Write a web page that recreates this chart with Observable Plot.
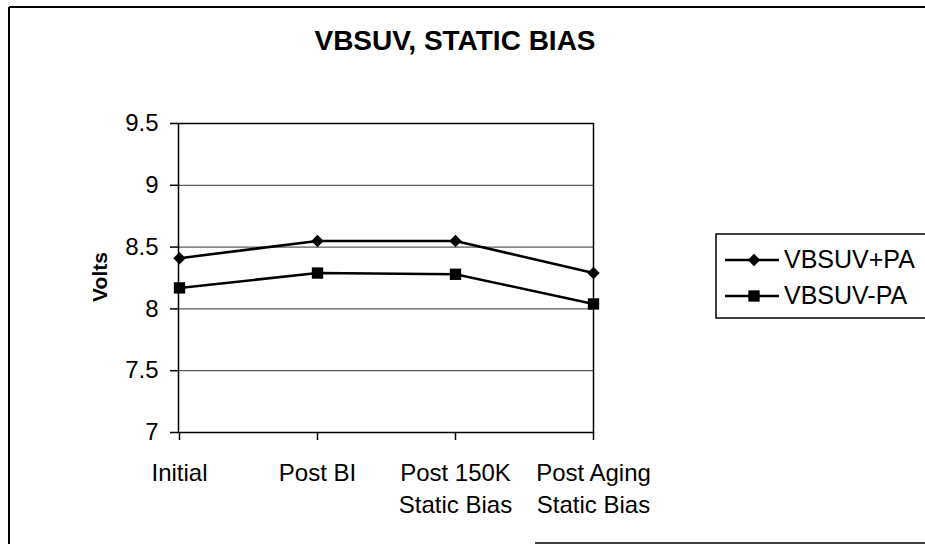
<!DOCTYPE html>
<html>
<head>
<meta charset="utf-8">
<script src="https://cdn.jsdelivr.net/npm/d3@7"></script>
<script src="https://cdn.jsdelivr.net/npm/@observablehq/plot@0.6"></script>
<style>
  html, body { margin: 0; padding: 0; background: white; }
  #chart { width: 925px; height: 544px; overflow: hidden; }
</style>
</head>
<body>
<div id="chart"></div>
<script>
const title = "VBSUV, STATIC BIAS";
const yLabel = "Volts";
const categories = ["Initial", "Post BI", "Post 150K\nStatic Bias", "Post Aging\nStatic Bias"];
const seriesNames = ["VBSUV+PA", "VBSUV-PA"];
const plusPA = [8.41, 8.55, 8.55, 8.29];
const minusPA = [8.17, 8.29, 8.28, 8.04];
const yTicks = [7, 7.5, 8, 8.5, 9, 9.5];

const plusRows = categories.map((c, i) => ({cat: c, v: plusPA[i], series: seriesNames[0]}));
const minusRows = categories.map((c, i) => ({cat: c, v: minusPA[i], series: seriesNames[1]}));
const rows = plusRows.concat(minusRows);

const W = 925, H = 544;
const font = "'Liberation Sans', Arial, Helvetica, sans-serif";

const chart = Plot.plot({
  width: W,
  height: H,
  marginLeft: 178,
  marginRight: 332,
  marginTop: 123,
  marginBottom: 112,
  style: {fontFamily: font, background: "white", color: "black", overflow: "visible"},
  x: {type: "point", domain: categories, padding: 0},
  y: {domain: [7, 9.5]},
  marks: [
    Plot.gridY(yTicks, {stroke: "#333", strokeOpacity: 1, strokeWidth: 1}),
    Plot.frame({stroke: "black", strokeWidth: 1.5}),
    Plot.axisY(yTicks, {tickSize: 8, tickPadding: 12, fontSize: 24, tickFormat: d => String(d), label: null, strokeWidth: 1.5}),
    Plot.axisX({tickSize: 8, tickPadding: 18, fontSize: 24, lineHeight: 1.33, label: null, strokeWidth: 1.5}),
    Plot.line(rows, {x: "cat", y: "v", z: "series", stroke: "black", strokeWidth: 2.5}),
    Plot.dot(plusRows, {x: "cat", y: "v", symbol: "diamond2", fill: "black", stroke: "none", r: 5.6}),
    Plot.dot(minusRows, {x: "cat", y: "v", symbol: "square", fill: "black", stroke: "none", r: 6.4})
  ]
});

document.getElementById("chart").appendChild(chart);

const svg = d3.select(chart);

// outer chart border (as in the scanned original)
svg.append("line").attr("x1", 9).attr("x2", 9).attr("y1", 7).attr("y2", H)
  .attr("stroke", "black").attr("stroke-width", 2);
svg.append("line").attr("x1", 9).attr("x2", W).attr("y1", 7).attr("y2", 7)
  .attr("stroke", "black").attr("stroke-width", 2);
svg.append("line").attr("x1", 535).attr("x2", W).attr("y1", 543).attr("y2", 543)
  .attr("stroke", "black").attr("stroke-width", 1.5);

// title
svg.append("text")
  .attr("x", 455).attr("y", 50)
  .attr("text-anchor", "middle")
  .attr("font-family", font).attr("font-weight", "bold").attr("font-size", 28)
  .attr("fill", "black")
  .text(title);

// y axis label
svg.append("text")
  .attr("transform", "translate(107,277) rotate(-90)")
  .attr("text-anchor", "middle")
  .attr("font-family", font).attr("font-weight", "bold").attr("font-size", 21)
  .attr("fill", "black")
  .text(yLabel);

// legend
const lg = svg.append("g");
lg.append("rect").attr("x", 716).attr("y", 234).attr("width", 230).attr("height", 84)
  .attr("fill", "white").attr("stroke", "black").attr("stroke-width", 1.5);
const symbols = [d3.symbolDiamond2, d3.symbolSquare];
const sizes = [Math.PI * 5.6 * 5.6, Math.PI * 6.4 * 6.4];
seriesNames.forEach((name, i) => {
  const cy = 260 + i * 36;
  lg.append("line").attr("x1", 725).attr("x2", 779).attr("y1", cy).attr("y2", cy)
    .attr("stroke", "black").attr("stroke-width", 2.5);
  lg.append("path").attr("d", d3.symbol(symbols[i], sizes[i])())
    .attr("transform", `translate(754,${cy})`).attr("fill", "black");
  lg.append("text").attr("x", 784).attr("y", cy + 8)
    .attr("text-anchor", "start")
    .attr("font-family", font).attr("font-size", 25).attr("fill", "black")
    .text(name);
});
</script>
</body>
</html>
